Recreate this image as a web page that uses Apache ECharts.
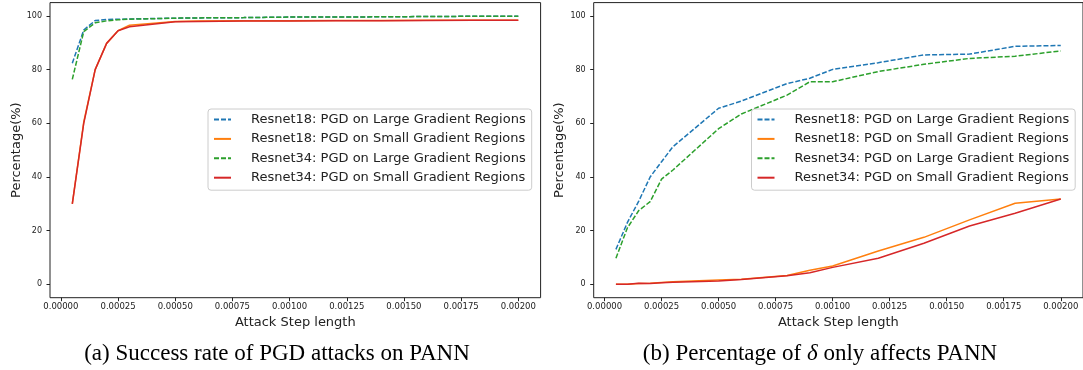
<!DOCTYPE html>
<html>
<head>
<meta charset="utf-8">
<script src="https://cdn.jsdelivr.net/npm/echarts@6/dist/echarts.min.js"></script>
<style>
  html, body { margin: 0; padding: 0; background: #fff; }
  #chart { width: 1083px; height: 370px; }
</style>
</head>
<body>
<div id="chart"></div>
<script>
// attack step lengths (x)
const steps = [0.00005, 0.0001, 0.00015, 0.0002, 0.00025, 0.0003, 0.0005, 0.0006,
  0.0008, 0.0009, 0.001, 0.0012, 0.0014, 0.0016, 0.0018, 0.002]

const seriesNames = [
  "Resnet18: PGD on Large Gradient Regions",
  "Resnet18: PGD on Small Gradient Regions",
  "Resnet34: PGD on Large Gradient Regions",
  "Resnet34: PGD on Small Gradient Regions"
]

// (a) success rate of PGD attacks
const aR18Large = [82.4, 94.8, 98.3, 98.7, 98.8, 98.9, 99.2, 99.3, 99.4, 99.5, 99.6, 99.6, 99.7, 99.8, 99.9, 99.9]
const aR18Small = [30, 60.5, 80, 89.8, 94.5, 96.6, 98, 98.1, 98.2, 98.2, 98.2, 98.3, 98.3, 98.4, 98.4, 98.4]
const aR34Large = [76.4, 94.2, 97.5, 98.2, 98.6, 98.8, 99.2, 99.3, 99.4, 99.5, 99.6, 99.6, 99.7, 99.8, 99.9, 99.9]
const aR34Small = [30, 60, 80, 89.8, 94.5, 96, 97.9, 98, 98.1, 98.1, 98.1, 98.2, 98.2, 98.3, 98.4, 98.4]

// (b) percentage of delta only affects PANN
const bR18Large = [13, 23, 31, 40, 45.7, 51.3, 65.6, 68.3, 74.8, 76.8, 80.1, 82.6, 85.5, 85.8, 88.7, 89]
const bR18Small = [0, 0, 0.3, 0.4, 0.7, 0.9, 1.6, 1.9, 3.3, 5.2, 6.8, 12.4, 17.5, 24, 30.2, 31.8]
const bR34Large = [9.7, 21, 27.5, 30.8, 39.2, 42.6, 58, 63.5, 70.5, 75.5, 75.5, 79.3, 82, 84.2, 85, 87]
const bR34Small = [0, 0, 0.4, 0.3, 0.6, 0.8, 1.2, 1.8, 3.2, 4.3, 6.3, 9.7, 15.3, 21.7, 26.5, 31.8]

const xTicks = [0, 0.00025, 0.0005, 0.00075, 0.001, 0.00125, 0.0015, 0.00175, 0.002]
const yTicks = [0, 20, 40, 60, 80, 100]

const captions = [
  "(a) Success rate of PGD attacks on PANN",
  "(b) Percentage of {i|δ} only affects PANN"
]

const colors = ["#1f77b4", "#ff7f0e", "#2ca02c", "#d62728"]
const dashed = [true, false, true, false]
const FONT = "DejaVu Sans"
const INK = "#222"

const zip = (xs, ys) => xs.map((x, i) => [x, ys[i]])

const makeXAxis = (gridIndex) => ({
  type: "value",
  gridIndex,
  min: -0.0000475,
  max: 0.0020975,
  name: "Attack Step length",
  nameLocation: "middle",
  nameGap: 17,
  nameTextStyle: { fontFamily: FONT, fontSize: 13, color: INK },
  axisLine: { show: false, onZero: false },
  splitLine: { show: false },
  axisTick: { show: true, length: 3.5, lineStyle: { color: INK }, customValues: xTicks },
  axisLabel: {
    customValues: xTicks,
    fontFamily: FONT, fontSize: 8.5, color: INK, margin: 5,
    formatter: (v) => v.toFixed(5)
  }
})

const makeYAxis = (gridIndex) => ({
  type: "value",
  gridIndex,
  min: -5,
  max: 105,
  name: "Percentage(%)",
  nameLocation: "middle",
  nameGap: 27,
  nameTextStyle: { fontFamily: FONT, fontSize: 13, color: INK },
  axisLine: { show: false, onZero: false },
  splitLine: { show: false },
  axisTick: { show: true, length: 3.5, lineStyle: { color: INK }, customValues: yTicks },
  axisLabel: {
    customValues: yTicks,
    fontFamily: FONT, fontSize: 8, color: INK, margin: 8
  }
})

const makeLegend = (left) => ({
  orient: "vertical",
  left,
  top: 109,
  data: seriesNames,
  itemWidth: 17,
  itemHeight: 13,
  itemGap: 6.4,
  padding: [4, 6, 6, 5],
  backgroundColor: "rgba(255,255,255,0.8)",
  borderColor: "#cccccc",
  borderWidth: 1,
  borderRadius: 3,
  selectedMode: false,
  itemStyle: { opacity: 0, color: "rgba(0,0,0,0)", borderWidth: 0 },
  textStyle: { fontFamily: FONT, fontSize: 13, color: INK, padding: [0, 0, 0, 15] }
})

const makeSeries = (gridIdx, sets) => sets.map((ys, i) => ({
  name: seriesNames[i],
  type: "line",
  xAxisIndex: gridIdx,
  yAxisIndex: gridIdx,
  data: zip(steps, ys),
  symbol: "none",
  animation: false,
  color: colors[i],
  lineStyle: {
    color: colors[i],
    width: 1.5,
    type: dashed[i] ? [5, 2] : "solid"
  }
}))

const chart = echarts.init(document.getElementById("chart"))

const captionStyle = {
  fontFamily: "Liberation Serif", fontSize: 23, fontWeight: "normal", color: "#000"
}

const option = {
  animation: false,
  title: [
    { text: captions[0], left: 272, top: 337, textAlign: "center", textStyle: captionStyle },
    {
      text: captions[1], left: 815, top: 337, textAlign: "center",
      textStyle: {
        ...captionStyle,
        rich: { i: { fontFamily: "Liberation Serif", fontSize: 23, fontStyle: "italic", color: "#000" } }
      }
    }
  ],
  grid: [
    { left: 50, top: 2.6, width: 490.6, height: 295.1, show: true, borderColor: INK, borderWidth: 1, backgroundColor: "#fff" },
    { left: 593.7, top: 2.6, width: 490.6, height: 295.1, show: true, borderColor: INK, borderWidth: 1, backgroundColor: "#fff" }
  ],
  legend: [makeLegend(208), makeLegend(751.5)],
  xAxis: [makeXAxis(0), makeXAxis(1)],
  yAxis: [makeYAxis(0), makeYAxis(1)],
  series: [
    ...makeSeries(0, [aR18Large, aR18Small, aR34Large, aR34Small]),
    ...makeSeries(1, [bR18Large, bR18Small, bR34Large, bR34Small])
  ]
}

chart.setOption(option)
</script>
</body>
</html>
